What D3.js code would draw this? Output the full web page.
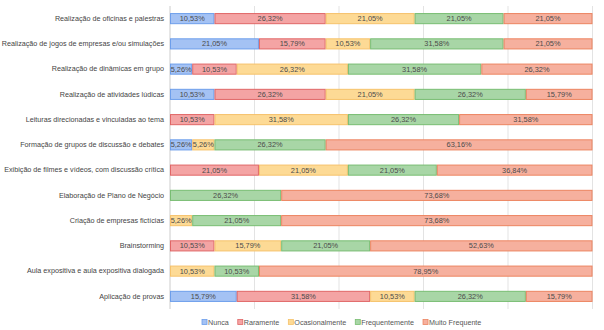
<!DOCTYPE html>
<html>
<head>
<meta charset="utf-8">
<script src="https://cdn.jsdelivr.net/npm/d3@7"></script>
<style>
  html, body { margin: 0; padding: 0; background: #fff; }
  svg { display: block; font-family: "Liberation Sans", Arial, sans-serif; }
</style>
</head>
<body>
<svg id="chart" width="604" height="330"></svg>
<script>
// Activities (one row each), top to bottom
const categories = [
  "Realização de oficinas e palestras",
  "Realização de jogos de empresas e/ou simulações",
  "Realização de dinâmicas em grupo",
  "Realização de atividades lúdicas",
  "Leituras direcionadas e vinculadas ao tema",
  "Formação de grupos de discussão e debates",
  "Exibição de filmes e vídeos, com discussão crítica",
  "Elaboração de Plano de Negócio",
  "Criação de empresas fictícias",
  "Brainstorming",
  "Aula expositiva e aula expositiva dialogada",
  "Aplicação de provas"
];

// Frequency levels (stack order)
const seriesNames = ["Nunca", "Raramente", "Ocasionalmente", "Frequentemente", "Muito Frequente"];

// Percent of answers per level, one array per level, aligned with categories
const nunca          = [10.53, 21.05,  5.26, 10.53,  0,     5.26,  0,     0,     0,     0,     0,     15.79];
const raramente      = [26.32, 15.79, 10.53, 26.32, 10.53,  0,    21.05,  0,     0,    10.53,  0,     31.58];
const ocasionalmente = [21.05, 10.53, 26.32, 21.05, 31.58,  5.26, 21.05,  0,     5.26, 15.79, 10.53, 10.53];
const frequentemente = [21.05, 31.58, 31.58, 26.32, 26.32, 26.32, 21.05, 26.32, 21.05, 21.05, 10.53, 26.32];
const muitoFrequente = [21.05, 21.05, 26.32, 15.79, 31.58, 63.16, 36.84, 73.68, 73.68, 52.63, 78.95, 15.79];

const xTicks = [0, 20, 40, 60, 80, 100];

const fills   = ["#a4c2f4", "#f4a4a4", "#fdda95", "#a8d6a6", "#f6b09e"];
const strokes = ["#6d9eeb", "#e06666", "#f6c26b", "#78bd72", "#ec8460"];

const values = [nunca, raramente, ocasionalmente, frequentemente, muitoFrequente];
const rows = categories.map((c, i) => {
  const r = { category: c };
  seriesNames.forEach((s, k) => r[s] = values[k][i]);
  return r;
});

const svg = d3.select("#chart");
const margin = { left: 170, right: 11.5, top: 6, bottom: 21 };
const W = 604, H = 330;

const x = d3.scaleLinear().domain([0, 100]).range([margin.left, W - margin.right]);
const y = d3.scaleBand().domain(categories).range([margin.top, H - margin.bottom]).paddingInner(0.56).paddingOuter(0.28);

// vertical gridlines
svg.append("g")
  .selectAll("line")
  .data(xTicks)
  .join("line")
  .attr("x1", d => x(d)).attr("x2", d => x(d))
  .attr("y1", margin.top).attr("y2", H - margin.bottom)
  .attr("stroke", d => d === 0 ? "#cccccc" : "#e3e3e3")
  .attr("stroke-width", 1);

const stack = d3.stack().keys(seriesNames);
const stacked = stack(rows);

const layers = svg.append("g")
  .selectAll("g")
  .data(stacked)
  .join("g")
  .attr("fill", (d, i) => fills[i])
  .attr("stroke", (d, i) => strokes[i]);

layers.selectAll("rect")
  .data(d => d.filter(p => p[1] - p[0] > 0))
  .join("rect")
  .attr("x", p => x(p[0]) + 0.5)
  .attr("y", p => y(p.data.category) + 0.5)
  .attr("width", p => Math.max(0, x(p[1]) - x(p[0]) - 1))
  .attr("height", y.bandwidth() - 1)
  .attr("stroke-width", 1);

// value labels
const fmt = v => v.toFixed(2).replace(".", ",") + "%";
const labelG = svg.append("g")
  .attr("font-size", "7.4px")
  .attr("fill", "#4a4a4a")
  .attr("text-anchor", "middle");
stacked.forEach(layer => {
  layer.filter(p => p[1] - p[0] > 0).forEach(p => {
    labelG.append("text")
      .attr("x", (x(p[0]) + x(p[1])) / 2)
      .attr("y", y(p.data.category) + y.bandwidth() / 2)
      .attr("dy", "0.35em")
      .text(fmt(p[1] - p[0]));
  });
});

// category axis labels
const yAxis = d3.axisLeft(y).tickSize(0).tickPadding(6);
const ya = svg.append("g")
  .attr("transform", `translate(${margin.left},0)`)
  .call(yAxis);
ya.select(".domain").remove();
ya.selectAll("text")
  .attr("font-size", "7.2px")
  .attr("fill", "#444")
  .attr("font-family", "Liberation Sans, Arial, sans-serif");

// legend
const legend = svg.append("g").attr("font-size", "7.2px").attr("fill", "#555");
let lx = 202;
const ly = 322.5;
seriesNames.forEach((s, i) => {
  const g = legend.append("g").attr("transform", `translate(${lx},${ly})`);
  g.append("rect")
    .attr("x", 0).attr("y", -3).attr("width", 5).attr("height", 5)
    .attr("fill", fills[i]).attr("stroke", strokes[i]).attr("stroke-width", 0.8);
  const t = g.append("text").attr("x", 6).attr("dy", "0.3em").attr("fill", "#555").text(s);
  lx += 6 + t.node().getComputedTextLength() + 9;
});
</script>
</body>
</html>
